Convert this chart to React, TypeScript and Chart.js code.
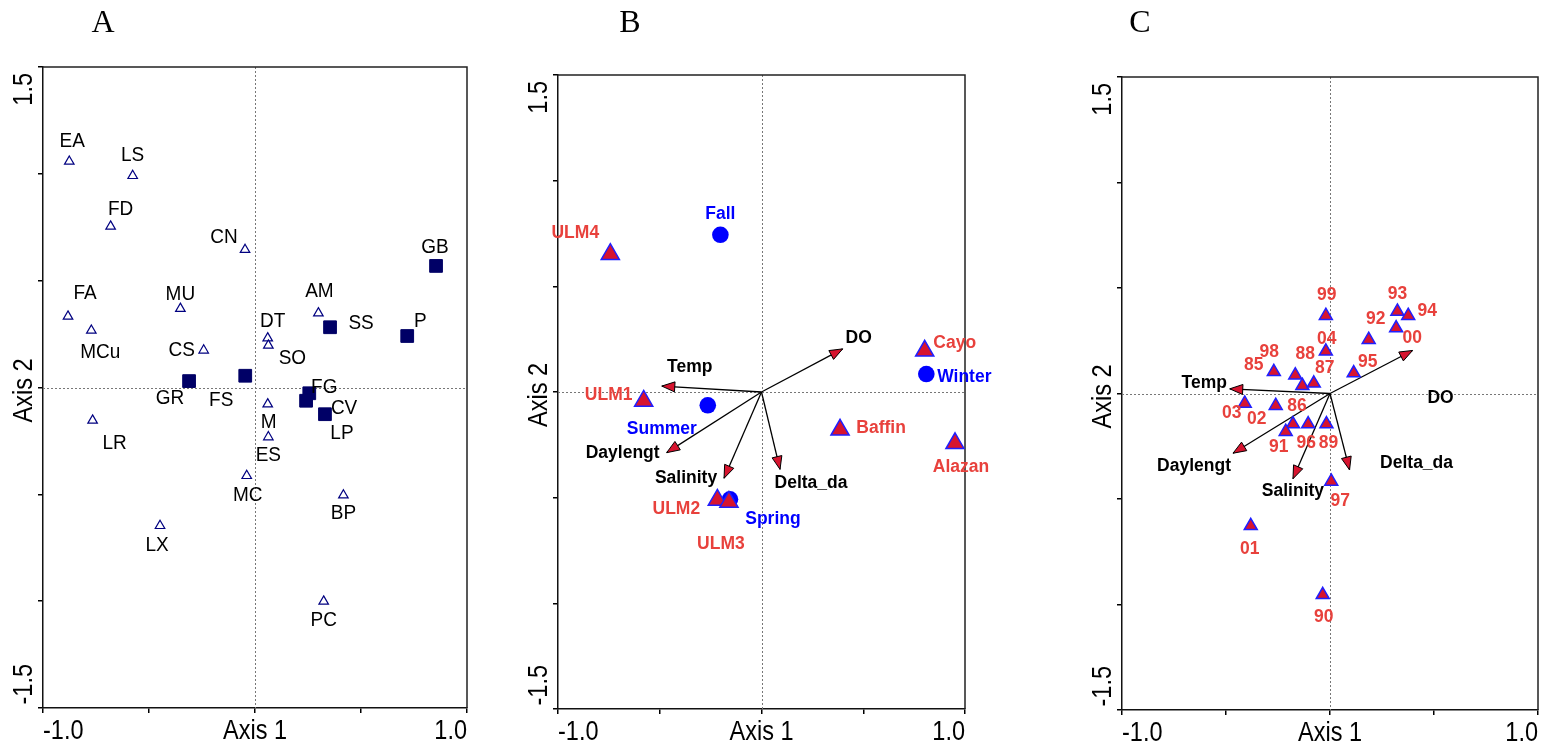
import React, { useEffect, useRef } from 'react';
import { Chart, registerables } from 'chart.js';
Chart.register(...registerables);

// ---------- Data ----------
const panelTitles = ['A', 'B', 'C'];
const xTickLabels = ['-1.0', 'Axis 1', '1.0'];
const yTickLabels = ['1.5', 'Axis 2', '-1.5'];

// Panel A: species (open triangles) and sites (filled squares)
const aTriNames = ['EA', 'LS', 'FD', 'CN', 'FA', 'MU', 'MCu', 'CS', 'DT', 'SO', 'AM', 'M', 'LR', 'ES', 'MC', 'BP', 'LX', 'PC'];
const aTriX = [-0.876, -0.577, -0.681, -0.047, -0.882, -0.352, -0.772, -0.242, 0.06, 0.063, 0.299, 0.06, -0.766, 0.063, -0.039, 0.417, -0.448, 0.324];
const aTriY = [1.058, 0.991, 0.754, 0.645, 0.333, 0.369, 0.267, 0.174, 0.231, 0.197, 0.348, -0.078, -0.154, -0.232, -0.413, -0.504, -0.647, -1.001];
const aSqNames = ['GB', 'SS', 'P', 'GR', 'FS', 'FG', 'CV', 'LP'];
const aSqX = [0.854, 0.354, 0.718, -0.311, -0.046, 0.256, 0.241, 0.33];
const aSqY = [0.569, 0.282, 0.241, 0.03, 0.055, -0.027, -0.062, -0.125];

// Panel B: sites (triangles), seasons (circles), environmental vectors
const bSiteNames = ['ULM4', 'Cayo', 'ULM1', 'Baffin', 'Alazan', 'ULM2', 'ULM3'];
const bSiteX = [-0.743, 0.802, -0.579, 0.386, 0.951, -0.217, -0.16];
const bSiteY = [0.652, 0.195, -0.042, -0.179, -0.243, -0.511, -0.52];
const bSeasonNames = ['Fall', 'Winter', 'Summer', 'Spring'];
const bSeasonX = [-0.202, 0.81, -0.264, -0.155];
const bSeasonY = [0.744, 0.085, -0.063, -0.508];
const envNames = ['DO', 'Temp', 'Daylengt', 'Salinity', 'Delta_da'];
const bEnvX = [0.399, -0.49, -0.466, -0.184, 0.091];
const bEnvY = [0.204, 0.028, -0.287, -0.408, -0.366];

// Panel C: years (triangles), environmental vectors
const cYearNames = ['99', '93', '94', '00', '92', '04', '95', '85', '98', '88', '87', '03', '02', '86', '91', '96', '89', '97', '01', '90'];
const cYearX = [-0.02, 0.324, 0.376, 0.318, 0.186, -0.02, 0.114, -0.27, -0.167, -0.133, -0.078, -0.41, -0.261, -0.178, -0.213, -0.105, -0.017, 0.006, -0.381, -0.035];
const cYearY = [0.369, 0.389, 0.369, 0.31, 0.255, 0.2, 0.097, 0.103, 0.087, 0.037, 0.048, -0.047, -0.058, -0.145, -0.181, -0.145, -0.145, -0.417, -0.627, -0.954];
const cEnvX = [0.397, -0.482, -0.466, -0.178, 0.094];
const cEnvY = [0.204, 0.022, -0.283, -0.404, -0.362];

// ---------- Layout (label pixel offsets) ----------
const aTriLabelOff = [[3, -22], [0, -22], [10, -19], [-21, -14], [17, -24], [0, -16], [9, 20], [-22, -1], [5, -18], [24, 11], [1, -23], [1, 17], [22, 21], [0, 17], [1, 18], [0, 17], [-3, 18], [0, 17]];
const aSqLabelOff = [[-1, -20], [31, -5], [13, -16], [-19, 16], [-24, 23], [15, -7], [38, 6], [17, 18]];
const bSiteLabelOff = [[-35, -23], [30, -9], [-35, -8], [41, -4], [6, 22], [-41, 7], [-8, 40]];
const bSeasonLabelOff = [[0, -22], [38, 1], [-46, 22], [43, 18]];
const bEnvLabelOff = [[16, -13], [28, -21], [-44, -1], [-38, -2], [31, 12]];
const cYearLabelOff = [[1, -22], [0, -19.5], [19, -6], [16, 8], [7, -22], [1, -14], [14, -13], [-20, -8], [-26, -25], [3, -33], [11, -17], [-13, 8], [-19, 12], [4, -20], [-7, 14], [-2, 17], [2, 17], [9, 18], [-1, 21], [1, 21]];
const cEnvLabelOff = [[28, 46], [-25.5, -8], [-39, 11], [0, 10.5], [67, -9]];

const SANS = '"Liberation Sans", Arial, Helvetica, sans-serif';
const SERIF = '"Liberation Serif", "Times New Roman", serif';
const RED_LABEL = '#e8413c';
const RED_FILL = '#d7142f';
const BLUE = '#0000ff';
const NAVY = '#000080';

const toPts = (xs: number[], ys: number[]) => xs.map((x, i) => ({ x, y: ys[i] }));

function drawText(ctx: CanvasRenderingContext2D, s: string, x: number, y: number, size: number, o: any = {}) {
  const { bold = false, family = SANS, color = '#000', align = 'center', sy = 1, rot = 0, vcenter = true } = o;
  ctx.save();
  ctx.translate(x, y);
  if (rot) ctx.rotate(rot);
  ctx.scale(1, sy);
  ctx.font = `${bold ? 'bold ' : ''}${size}px ${family}`;
  ctx.fillStyle = color;
  ctx.textAlign = align;
  ctx.textBaseline = 'alphabetic';
  ctx.fillText(s, 0, vcenter ? size * 0.358 : 0);
  ctx.restore();
}

type LabelGroup = { names: string[]; xs: number[]; ys: number[]; off: number[][]; size: number; bold: boolean; color: string; sy: number };
type PanelCfg = {
  left: number; width: number; padding: any; title: string; titleX: number;
  datasets: any[]; labels: LabelGroup[]; arrows?: { xs: number[]; ys: number[] };
};

function makeOverlay(cfg: PanelCfg) {
  return {
    id: 'overlay',
    beforeDatasetsDraw(chart: any) {
      const ctx = chart.ctx as CanvasRenderingContext2D;
      const a = chart.chartArea;
      const xs = chart.scales.x, ys = chart.scales.y;
      const x0 = xs.getPixelForValue(0), y0 = ys.getPixelForValue(0);
      ctx.save();
      ctx.strokeStyle = '#777';
      ctx.lineWidth = 1;
      ctx.setLineDash([2, 2]);
      ctx.beginPath();
      ctx.moveTo(Math.round(x0) + 0.5, a.top);
      ctx.lineTo(Math.round(x0) + 0.5, a.bottom);
      ctx.moveTo(a.left, Math.round(y0) + 0.5);
      ctx.lineTo(a.right, Math.round(y0) + 0.5);
      ctx.stroke();
      ctx.setLineDash([]);
      ctx.strokeStyle = '#222';
      ctx.lineWidth = 1.5;
      ctx.beginPath();
      ctx.moveTo(a.left, a.top);
      ctx.lineTo(a.right, a.top);
      ctx.lineTo(a.right, a.bottom);
      ctx.stroke();
      ctx.restore();
    },
    afterDatasetsDraw(chart: any) {
      const ctx = chart.ctx as CanvasRenderingContext2D;
      const a = chart.chartArea;
      const xs = chart.scales.x, ys = chart.scales.y;
      const x0 = xs.getPixelForValue(0), y0 = ys.getPixelForValue(0);
      // arrow heads
      if (cfg.arrows) {
        cfg.arrows.xs.forEach((ex, i) => {
          const tx = xs.getPixelForValue(ex), ty = ys.getPixelForValue(cfg.arrows!.ys[i]);
          const ang = Math.atan2(ty - y0, tx - x0);
          const L = 13, W = 5;
          const bx = tx - L * Math.cos(ang), by = ty - L * Math.sin(ang);
          const px = -Math.sin(ang) * W, py = Math.cos(ang) * W;
          ctx.save();
          ctx.beginPath();
          ctx.moveTo(tx, ty);
          ctx.lineTo(bx + px, by + py);
          ctx.lineTo(bx - px, by - py);
          ctx.closePath();
          ctx.fillStyle = RED_FILL;
          ctx.fill();
          ctx.strokeStyle = '#000';
          ctx.lineWidth = 1;
          ctx.stroke();
          ctx.restore();
        });
      }
      // point labels
      cfg.labels.forEach((g) => {
        g.names.forEach((n, i) => {
          const px = xs.getPixelForValue(g.xs[i]) + g.off[i][0];
          const py = ys.getPixelForValue(g.ys[i]) + g.off[i][1];
          drawText(ctx, n, px, py, g.size, { bold: g.bold, color: g.color, sy: g.sy });
        });
      });
      // axis texts
      const AX = 23.5, SY = 1.15;
      const base = a.bottom + 31;
      drawText(ctx, xTickLabels[0], a.left, base, AX, { align: 'left', sy: SY, vcenter: false });
      drawText(ctx, xTickLabels[1], x0, base, AX, { align: 'center', sy: SY, vcenter: false });
      drawText(ctx, xTickLabels[2], a.right, base, AX, { align: 'right', sy: SY, vcenter: false });
      const bx = a.left - 11.5;
      drawText(ctx, yTickLabels[0], bx, a.top + 6, AX, { align: 'right', sy: SY, rot: -Math.PI / 2, vcenter: false });
      drawText(ctx, yTickLabels[1], bx, y0 + 3, AX, { align: 'center', sy: SY, rot: -Math.PI / 2, vcenter: false });
      drawText(ctx, yTickLabels[2], bx, a.bottom - 3.5, AX, { align: 'left', sy: SY, rot: -Math.PI / 2, vcenter: false });
      // panel title
      drawText(ctx, cfg.title, cfg.titleX, 21, 32, { family: SERIF, color: '#000' });
    },
  };
}

function Panel({ cfg }: { cfg: PanelCfg }) {
  const ref = useRef<HTMLCanvasElement>(null);
  useEffect(() => {
    if (!ref.current) return;
    const axisCommon = {
      type: 'linear',
      grid: { drawOnChartArea: false, drawTicks: true, tickLength: 5, color: '#000', lineWidth: 1.5 },
      border: { display: true, color: '#111', width: 1.5 },
    };
    const chart = new Chart(ref.current, {
      type: 'scatter',
      data: { datasets: cfg.datasets },
      plugins: [makeOverlay(cfg)],
      options: {
        responsive: false,
        animation: false,
        events: [],
        layout: { padding: cfg.padding },
        plugins: { legend: { display: false }, tooltip: { enabled: false }, title: { display: false } },
        scales: {
          x: {
            ...axisCommon, position: 'bottom', min: -1, max: 1,
            ticks: { display: false, stepSize: 0.5 },
            afterFit: (s: any) => { s.height = 0; },
          },
          y: {
            ...axisCommon, position: 'left', min: -1.5, max: 1.5,
            ticks: { display: false, stepSize: 0.5 },
            afterFit: (s: any) => { s.width = 0; },
          },
        },
      } as any,
    } as any);
    return () => chart.destroy();
  }, []);
  return (
    <canvas
      ref={ref}
      width={cfg.width}
      height={746}
      style={{ position: 'absolute', left: cfg.left, top: 0, width: cfg.width, height: 746 }}
    />
  );
}

const arrowDatasets = (xs: number[], ys: number[]) =>
  xs.map((x, i) => ({
    data: [{ x: 0, y: 0 }, { x, y: ys[i] }],
    showLine: true,
    borderColor: '#000',
    borderWidth: 1.3,
    pointRadius: 0,
    order: 2,
  }));

const panelA: PanelCfg = {
  left: 0, width: 515, padding: { left: 43, right: 48, top: 67, bottom: 38 }, title: panelTitles[0], titleX: 103,
  datasets: [
    { data: toPts(aSqX, aSqY), pointStyle: 'rect', pointRadius: 9, backgroundColor: '#000066', borderColor: '#000066', borderWidth: 1, order: 1 },
    { data: toPts(aTriX, aTriY), pointStyle: 'triangle', pointRadius: 5.5, backgroundColor: '#fff', borderColor: NAVY, borderWidth: 1.2, order: 0 },
  ],
  labels: [
    { names: aTriNames, xs: aTriX, ys: aTriY, off: aTriLabelOff, size: 19, bold: false, color: '#000', sy: 1.05 },
    { names: aSqNames, xs: aSqX, ys: aSqY, off: aSqLabelOff, size: 19, bold: false, color: '#000', sy: 1.05 },
  ],
};

const panelB: PanelCfg = {
  left: 515, width: 515, padding: { left: 43, right: 65, top: 75, bottom: 37 }, title: panelTitles[1], titleX: 115,
  datasets: [
    ...arrowDatasets(bEnvX, bEnvY),
    { data: toPts(bSeasonX, bSeasonY), pointStyle: 'circle', pointRadius: 8.3, backgroundColor: BLUE, borderColor: BLUE, borderWidth: 0, order: 1 },
    { data: toPts(bSiteX, bSiteY), pointStyle: 'triangle', pointRadius: 10.5, backgroundColor: RED_FILL, borderColor: '#1f1fff', borderWidth: 1.5, order: 0 },
  ],
  labels: [
    { names: bSiteNames, xs: bSiteX, ys: bSiteY, off: bSiteLabelOff, size: 17.5, bold: true, color: RED_LABEL, sy: 1.07 },
    { names: bSeasonNames, xs: bSeasonX, ys: bSeasonY, off: bSeasonLabelOff, size: 17.5, bold: true, color: BLUE, sy: 1.07 },
    { names: envNames, xs: bEnvX, ys: bEnvY, off: bEnvLabelOff, size: 17.5, bold: true, color: '#000', sy: 1.07 },
  ],
  arrows: { xs: bEnvX, ys: bEnvY },
};

const panelC: PanelCfg = {
  left: 1030, width: 517, padding: { left: 92, right: 8, top: 77, bottom: 36 }, title: panelTitles[2], titleX: 110,
  datasets: [
    ...arrowDatasets(cEnvX, cEnvY),
    { data: toPts(cYearX, cYearY), pointStyle: 'triangle', pointRadius: 7.5, backgroundColor: RED_FILL, borderColor: '#1f1fff', borderWidth: 1.5, order: 0 },
  ],
  labels: [
    { names: cYearNames, xs: cYearX, ys: cYearY, off: cYearLabelOff, size: 17.5, bold: true, color: RED_LABEL, sy: 1.07 },
    { names: envNames, xs: cEnvX, ys: cEnvY, off: cEnvLabelOff, size: 17.5, bold: true, color: '#000', sy: 1.07 },
  ],
  arrows: { xs: cEnvX, ys: cEnvY },
};

export default function App() {
  return (
    <div style={{ position: 'absolute', left: 0, top: 0, width: 1547, height: 746, background: '#fff', overflow: 'hidden' }}>
      <Panel cfg={panelA} />
      <Panel cfg={panelB} />
      <Panel cfg={panelC} />
    </div>
  );
}
